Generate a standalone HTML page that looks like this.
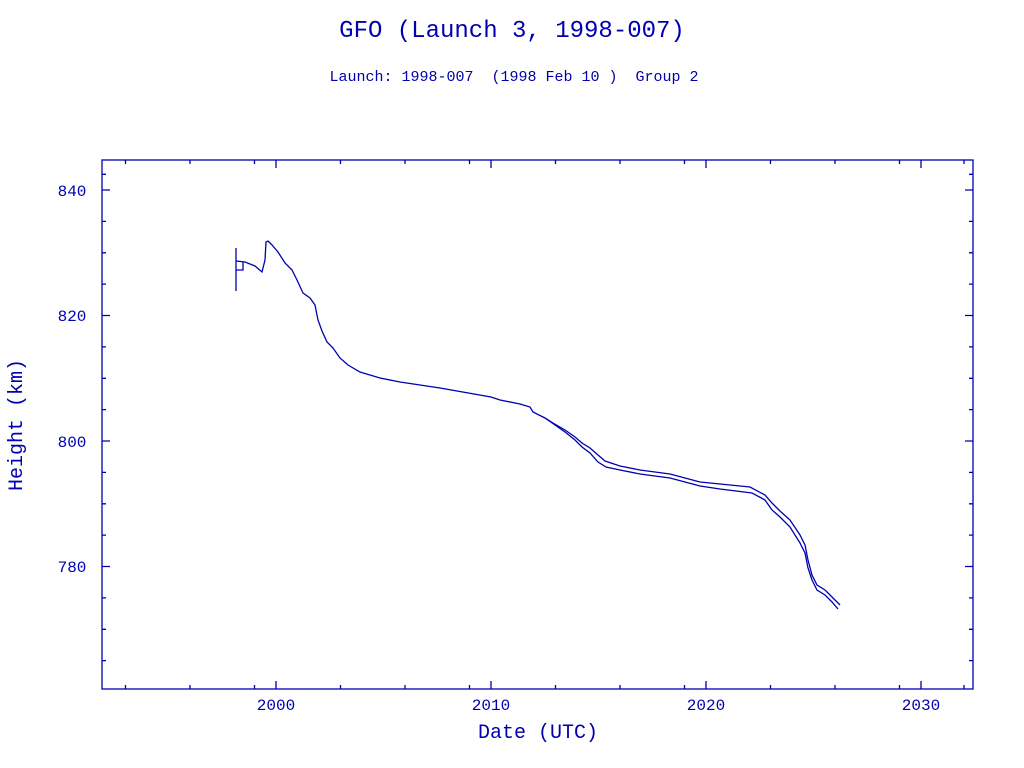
<!DOCTYPE html>
<html><head><meta charset="utf-8"><style>
html,body{margin:0;padding:0;background:#fff;}
svg{display:block;}
text{font-family:"Liberation Mono",monospace;fill:#0000b0;white-space:pre;}
</style></head><body>
<svg width="1024" height="768" viewBox="0 0 1024 768" xmlns="http://www.w3.org/2000/svg">
<text x="512" y="37" font-size="24" text-anchor="middle">GFO (Launch 3, 1998-007)</text>
<text x="514" y="81" font-size="15" text-anchor="middle" xml:space="preserve">Launch: 1998-007  (1998 Feb 10 )  Group 2</text>
<g stroke="#0000b0" stroke-width="1.3" fill="none">
<rect x="102" y="160" width="871" height="529"/>
<path d="M276,689v-8M491,689v-8M706,689v-8M921,689v-8M276,160v8M491,160v8M706,160v8M921,160v8
M125.5,689v-4M190,689v-4M254.5,689v-4M340.5,689v-4M405,689v-4M469.5,689v-4M555.5,689v-4M620,689v-4M684.5,689v-4M770.5,689v-4M835,689v-4M899.5,689v-4M964,689v-4
M125.5,160v4M190,160v4M254.5,160v4M340.5,160v4M405,160v4M469.5,160v4M555.5,160v4M620,160v4M684.5,160v4M770.5,160v4M835,160v4M899.5,160v4M964,160v4
M102,190h8M102,315.5h8M102,441h8M102,566.5h8M973,190h-8M973,315.5h-8M973,441h-8M973,566.5h-8"/>
<path d="M102,221.4h4M102,252.8h4M102,284.1h4M102,346.9h4M102,378.3h4M102,409.6h4M102,472.4h4M102,503.8h4M102,535.1h4M102,597.9h4M102,629.3h4M102,660.6h4M102,174.3h4
M973,221.4h-4M973,252.8h-4M973,284.1h-4M973,346.9h-4M973,378.3h-4M973,409.6h-4M973,472.4h-4M973,503.8h-4M973,535.1h-4M973,597.9h-4M973,629.3h-4M973,660.6h-4M973,174.3h-4"/>
<path d="M236,248v43M236,270h7v-8"/>
<polyline points="236,261 245,262 255,266 262,272 265,260 266,242 268,241 272,245 278,252 285,263 292,270 297,280 303,293 310,298 315,305 318,320 322,331 327,342 333,348 340,358 348,365 360,372 380,378 400,382 440,388 491,397 500,400 520,404 530,407 533,412 545,418 553,423 565,430 575,437 582,443 590,448 598,455 605,461 620,466 640,470 670,474 700,482 720,484 750,487 765,495 772,503 780,511 790,520 800,535 805,545 808,560 812,575 817,585 825,590 832,597 840,605"/>
<polyline points="545,418 555,425 565,432 575,440 582,447 590,453 598,462 606,467 620,470 640,474 670,478 700,486 720,489 752,493 765,500 772,510 780,517 790,527 800,543 805,553 808,568 812,580 817,590 825,595 832,602 838,609"/>
</g>
<g font-size="16" text-anchor="middle">
<text x="276" y="710">2000</text><text x="491" y="710">2010</text><text x="706" y="710">2020</text><text x="921" y="710">2030</text>
<text x="72" y="196">840</text><text x="72" y="321">820</text><text x="72" y="447">800</text><text x="72" y="572">780</text>
</g>
<text x="538" y="738" font-size="20" text-anchor="middle">Date (UTC)</text>
<text x="22" y="425" font-size="20" text-anchor="middle" transform="rotate(-90 22 425)">Height (km)</text>
</svg>
</body></html>
